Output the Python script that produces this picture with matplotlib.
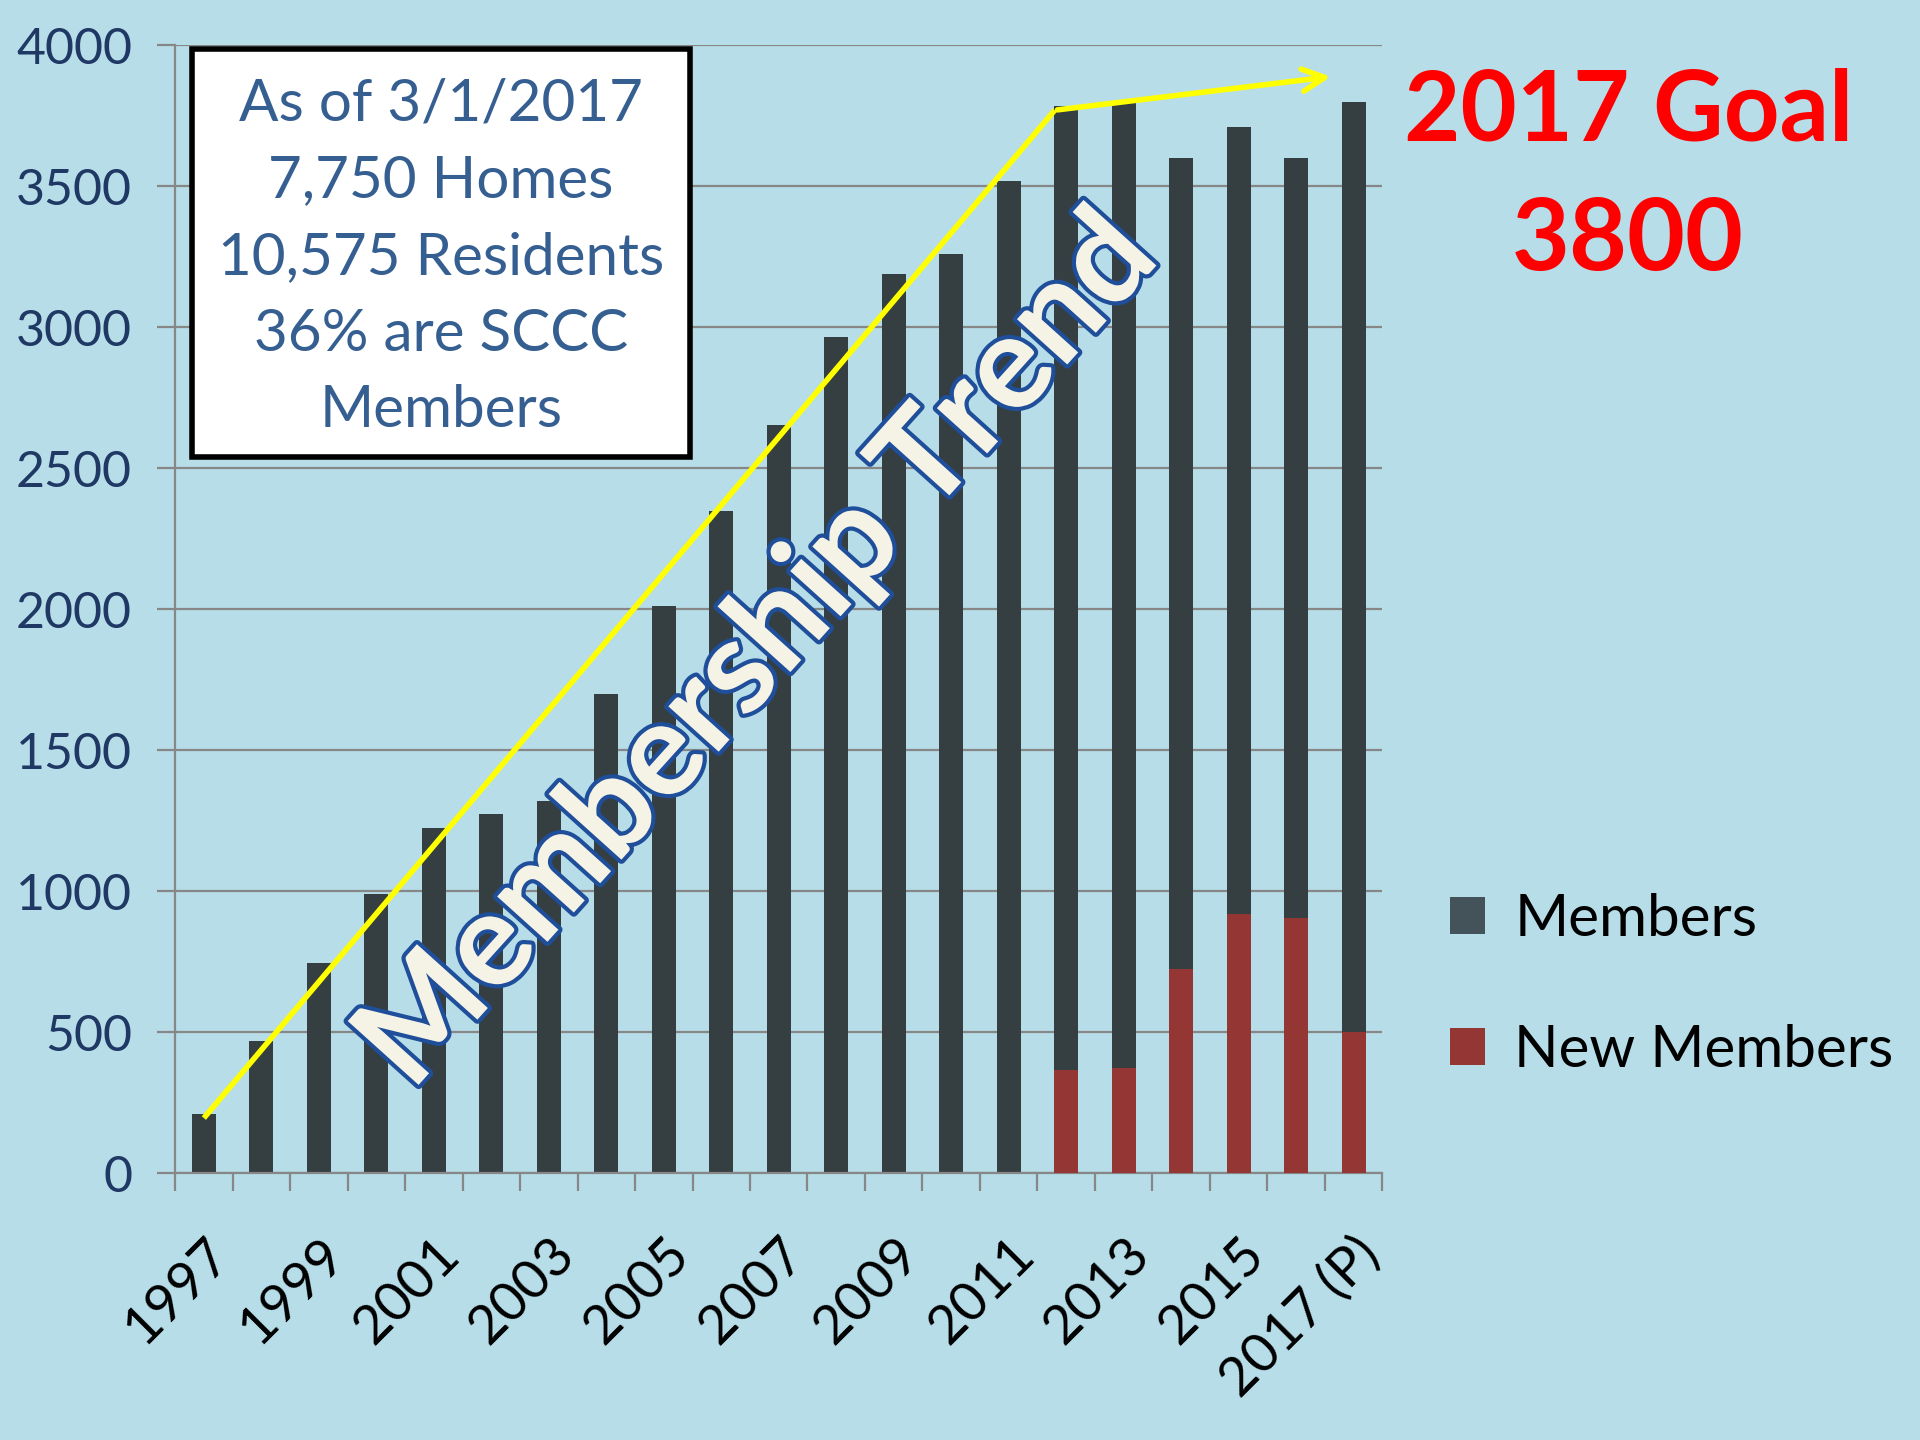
import matplotlib.pyplot as plt
import matplotlib.patheffects as pe
from matplotlib.patches import Patch

plt.rcParams['font.family'] = ['Lato', 'DejaVu Sans']

# Datos de membresía
years = ['1997', '1998', '1999', '2000', '2001', '2002', '2003', '2004', '2005', '2006', '2007',
         '2008', '2009', '2010', '2011', '2012', '2013', '2014', '2015', '2016', '2017 (P)']
members = [210, 470, 745, 990, 1225, 1275, 1320, 1700, 2010, 2350, 2655,
           2965, 3190, 3260, 3520, 3784, 3796, 3600, 3712, 3602, 3798]
new_members = [0, 0, 0, 0, 0, 0, 0, 0, 0, 0, 0,
               0, 0, 0, 0, 365, 374, 723, 920, 903, 500]

# Línea de tendencia (posición de categoría, valor)
trend_x = [0.0, 14.8, 19.65]
trend_y = [195, 3770, 3890]

info_lines = ['As of 3/1/2017', '7,750 Homes', '10,575 Residents', '36% are SCCC', 'Members']

bg = '#B7DDE8'
bar_color = '#353F42'
red = '#943634'
grid_color = '#878787'

fig = plt.figure(figsize=(19.2, 14.4), dpi=100, facecolor=bg)
ax = fig.add_axes([0.0912, 0.1854, 0.6288, 0.7831])
ax.set_facecolor(bg)

x = list(range(len(years)))
ax.bar(x, members, width=0.42, color=bar_color, zorder=2)
ax.bar(x, new_members, width=0.42, color=red, zorder=3)

ax.set_xlim(-0.5, len(years) - 0.5)
ax.set_ylim(0, 4000)
ax.set_yticks(range(0, 4001, 500))
ax.yaxis.grid(True, color=grid_color, linewidth=1.6, zorder=1)
ax.set_axisbelow(True)

for s in ['top', 'right']:
    ax.spines[s].set_visible(False)
for s in ['left', 'bottom']:
    ax.spines[s].set_color(grid_color)
    ax.spines[s].set_linewidth(1.6)

ax.tick_params(axis='y', length=13, width=1.6, color=grid_color, labelsize=36,
               labelcolor='#1F3864', pad=18)

# etiquetas cada dos años
ax.set_xticks(x[::2])
ax.set_xticklabels(years[::2], rotation=45, ha='right', va='top', rotation_mode='anchor')
ax.set_xticks([i - 0.5 for i in range(len(years) + 1)], minor=True)
ax.tick_params(axis='x', which='major', length=0, labelsize=39, labelcolor='black', pad=40)
ax.tick_params(axis='x', which='minor', length=13, width=1.6, color=grid_color)

# cuadro de información
ax.add_patch(plt.Rectangle((0.0142, 0.635), 0.412, 0.3617, transform=ax.transAxes,
                           facecolor='white', edgecolor='black', linewidth=4, zorder=4))
for i, line in enumerate(info_lines):
    ax.text(0.22, 0.948 - i * 0.068, line, transform=ax.transAxes, ha='center', va='center',
            fontsize=42, color='#365F91', zorder=5)

# texto de tendencia
ax.text(0.483, 0.463, 'Membership Trend', transform=ax.transAxes, rotation=48,
        ha='center', va='center', fontsize=95, fontweight='bold', color='#F5F2E6', zorder=6,
        path_effects=[pe.withStroke(linewidth=6, foreground='#1F4E9A')])

ax.plot(trend_x[:2], trend_y[:2], color='#FFFF00', linewidth=4, zorder=7, solid_capstyle='butt')
ax.annotate('', xy=(trend_x[2], trend_y[2]), xytext=(trend_x[1], trend_y[1]),
            arrowprops=dict(arrowstyle='->', color='#FFFF00', lw=4, mutation_scale=40),
            zorder=7, annotation_clip=False)

# meta 2017
fig.text(0.848, 0.922, '2017 Goal', ha='center', va='center', fontsize=70,
         fontweight='bold', color='#FF0000')
fig.text(0.848, 0.832, '3800', ha='center', va='center', fontsize=72,
         fontweight='bold', color='#FF0000')

handles = [Patch(facecolor='#44525A', label='Members'), Patch(facecolor=red, label='New Members')]
fig.legend(handles=handles, loc='center left', bbox_to_anchor=(0.728, 0.316), frameon=False,
           fontsize=42, handlelength=0.6, handleheight=0.6, labelspacing=1.35, handletextpad=0.5)

fig.savefig('out.png', dpi=100, facecolor=bg)
